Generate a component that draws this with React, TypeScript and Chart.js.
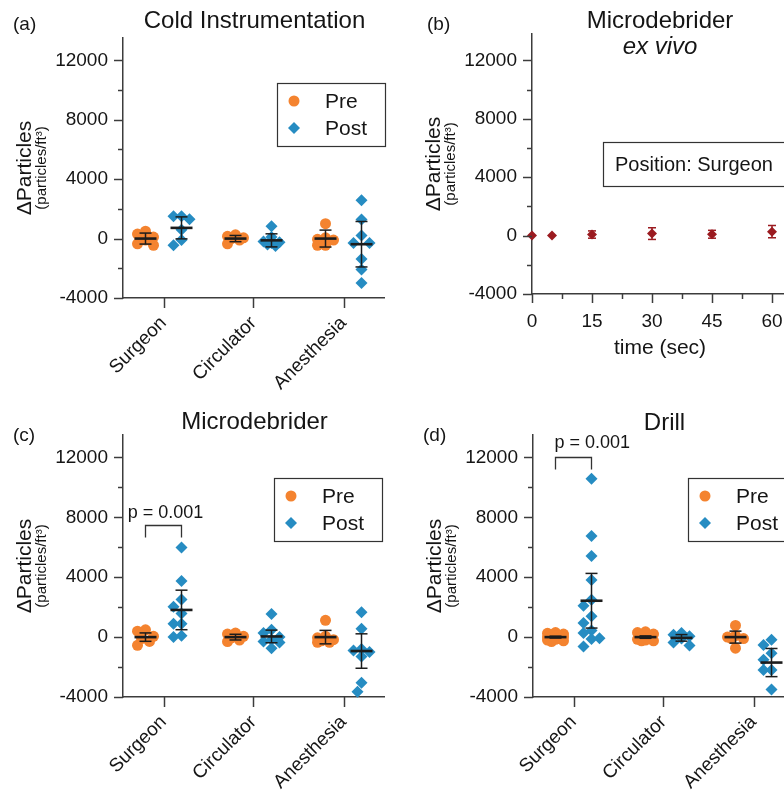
import React, { useEffect, useRef } from 'react';
import { Chart, registerables } from 'chart.js';

Chart.register(...registerables);

const FONT = '"Liberation Sans", Arial, Helvetica, sans-serif';
Chart.defaults.font.family = FONT;

const ORANGE = '#F4832F';
const BLUE = '#268CC2';
const DARKRED = '#9B1B20';
const INK = '#151515';
const AXIS = '#3c3c3c';
const BAR = '#1c1c1c';

const roles = ['Surgeon', 'Circulator', 'Anesthesia'];
const yMajorTicks = [-4000, 0, 4000, 8000, 12000];
const yMinorTicks = [-2000, 2000, 6000, 10000];

// (a) Cold Instrumentation
const coldPre = [
  [500, 300, 100, -100, -350, -450],
  [250, 150, 50, 0, -100, -350],
  [1000, 50, -50, -100, -450, -450],
];
const coldPost = [
  [1500, 1500, 1300, 600, -100, -450],
  [830, 100, -200, -250, -300, -400, -500],
  [2585, 1280, 200, -300, -300, -1370, -2090, -2990],
];
const coldPreMean = [0, 0, 0];
const coldPreErr = [370, 210, 570];
const coldPostMean = [720, -120, -380];
const coldPostErr = [740, 440, 1530];

// (b) Microdebrider ex vivo
const exVivoTime = [0, 5, 15, 30, 45, 60];
const exVivoMean = [0, 0, 70, 135, 90, 270];
const exVivoErr = [0, 0, 250, 400, 270, 420];
const timeMajorTicks = [0, 15, 30, 45, 60];
const timeMinorTicks = [7.5, 22.5, 37.5, 52.5];

// (c) Microdebrider
const microPre = [
  [490, 400, 50, -100, -290, -550],
  [270, 200, 50, -50, -200, -300],
  [1120, 50, -50, -170, -250, -350, -350],
];
const microPost = [
  [5980, 3740, 2510, 2020, 1570, 900, 900, 90, 0],
  [1545, 490, 270, 0, -180, -300, -360, -740],
  [1660, 560, -800, -900, -1000, -1300, -3050, -3650],
];
const microPreMean = [0, 0, 0];
const microPreErr = [280, 190, 450];
const microPostMean = [1815, 45, -930];
const microPostErr = [1320, 420, 1150];

// (d) Drill
const drillPre = [
  [300, 250, 200, 150, 100, 50, 0, 0, -50, -100, -150, -200, -250, -300],
  [350, 300, 200, 50, -50, -150, -200, -250, -250],
  [780, 100, 0, -100, -100, -740],
];
const drillPost = [
  [10570, 6760, 5420, 3810, 2500, 2100, 1390, 940, 450, 270, -70, -130, -630],
  [270, 150, 50, -100, -360, -560],
  [-180, -520, -1075, -1520, -2200, -2200, -3500],
];
const drillPreMean = [0, 0, 0];
const drillPreErr = [60, 80, 400];
const drillPostMean = [2430, -50, -1700];
const drillPostErr = [1825, 220, 940];

const pValueText = 'p = 0.001';

type Area = { left: number; top: number; right: number; bottom: number };

type GroupSpec = {
  letter: string;
  title: string;
  titleBaseline: number;
  letterBaseline: number;
  pre: number[][];
  post: number[][];
  preMean: number[];
  preErr: number[];
  postMean: number[];
  postErr: number[];
  yMax: number;
  width: number;
  height: number;
  area: Area;
  legendBox: { x: number; y: number };
  bracket?: { value: number; align: 'center' | 'left'; gap: number };
};

const GROUP_OFFSET = 0.2;

function swarm(values: number[], pxPerValue: number, pxPerCat: number): number[] {
  const order = values.map((_, i) => i).sort((a, b) => values[b] - values[a]);
  const placed: { x: number; y: number }[] = [];
  const offsets = new Array(values.length).fill(0);
  const cands = [0, -1, 1, -2, 2];
  const step = 4;
  const minD = 9;
  for (const i of order) {
    const y = values[i] * pxPerValue;
    let best = 0;
    let bestScore = -1;
    for (const c of cands) {
      const x = c * step;
      let d = Infinity;
      for (const p of placed) d = Math.min(d, Math.hypot(p.x - x, p.y - y));
      if (d >= minD) {
        best = x;
        bestScore = Infinity;
        break;
      }
      if (d > bestScore) {
        bestScore = d;
        best = x;
      }
    }
    placed.push({ x: best, y });
    offsets[i] = best / pxPerCat;
  }
  return offsets;
}

function line(ctx: CanvasRenderingContext2D, x1: number, y1: number, x2: number, y2: number) {
  ctx.beginPath();
  ctx.moveTo(x1, y1);
  ctx.lineTo(x2, y2);
  ctx.stroke();
}

function text(
  ctx: CanvasRenderingContext2D,
  s: string,
  x: number,
  y: number,
  size: number,
  align: CanvasTextAlign = 'left',
  baseline: CanvasTextBaseline = 'alphabetic',
  italic = false
) {
  ctx.font = `${italic ? 'italic ' : ''}${size}px ${FONT}`;
  ctx.textAlign = align;
  ctx.textBaseline = baseline;
  ctx.fillStyle = INK;
  ctx.fillText(s, x, y);
}

function drawYTitle(ctx: CanvasRenderingContext2D, a: Area) {
  const cy = (a.top + a.bottom) / 2;
  ctx.save();
  ctx.translate(a.left - 98, cy);
  ctx.rotate(-Math.PI / 2);
  text(ctx, '\u0394Particles', 0, 0, 21, 'center', 'middle');
  ctx.restore();
  ctx.save();
  ctx.translate(a.left - 81, cy);
  ctx.rotate(-Math.PI / 2);
  text(ctx, '(particles/ft\u00B3)', 0, 0, 15, 'center', 'middle');
  ctx.restore();
}

function drawYTicks(ctx: CanvasRenderingContext2D, chart: any) {
  const y = chart.scales.y;
  const a = chart.chartArea;
  ctx.strokeStyle = AXIS;
  ctx.lineWidth = 1.5;
  yMajorTicks.forEach((v) => {
    const py = Math.round(y.getPixelForValue(v)) + 0.5;
    line(ctx, a.left - 9, py, a.left, py);
  });
  yMinorTicks.forEach((v) => {
    const py = Math.round(y.getPixelForValue(v)) + 0.5;
    line(ctx, a.left - 5, py, a.left, py);
  });
}

function drawErrorBar(
  ctx: CanvasRenderingContext2D,
  px: number,
  yScale: any,
  mean: number,
  err: number,
  capHalf: number,
  meanHalf: number,
  color: string
) {
  const ym = yScale.getPixelForValue(mean);
  const yt = yScale.getPixelForValue(mean + err);
  const yb = yScale.getPixelForValue(mean - err);
  ctx.strokeStyle = color;
  ctx.lineWidth = 1.5;
  if (err > 0) {
    line(ctx, px, yt, px, yb);
    line(ctx, px - capHalf, yt, px + capHalf, yt);
    line(ctx, px - capHalf, yb, px + capHalf, yb);
  }
  if (meanHalf > 0) {
    ctx.lineWidth = 2.6;
    line(ctx, px - meanHalf, ym, px + meanHalf, ym);
  }
}

function drawLegend(ctx: CanvasRenderingContext2D, bx: number, by: number) {
  ctx.strokeStyle = '#333';
  ctx.lineWidth = 1.2;
  ctx.strokeRect(bx + 0.5, by + 0.5, 108, 63);
  ctx.fillStyle = ORANGE;
  ctx.beginPath();
  ctx.arc(bx + 17, by + 18, 5.5, 0, Math.PI * 2);
  ctx.fill();
  ctx.fillStyle = BLUE;
  const dx = bx + 17;
  const dy = by + 45;
  ctx.beginPath();
  ctx.moveTo(dx - 6, dy);
  ctx.lineTo(dx, dy - 6);
  ctx.lineTo(dx + 6, dy);
  ctx.lineTo(dx, dy + 6);
  ctx.closePath();
  ctx.fill();
  text(ctx, 'Pre', bx + 48, by + 19, 21, 'left', 'middle');
  text(ctx, 'Post', bx + 48, by + 46, 21, 'left', 'middle');
}

const yScaleOptions = (yMax: number, leftWidth: number) =>
  ({
    type: 'linear',
    min: -4000,
    max: yMax,
    afterBuildTicks: (s: any) => {
      s.ticks = yMajorTicks.map((v) => ({ value: v }));
    },
    afterFit: (s: any) => {
      s.width = leftWidth;
    },
    ticks: {
      padding: 6,
      color: INK,
      font: { size: 19, family: FONT },
      callback: (v: any) => String(v),
    },
    grid: { display: true, drawOnChartArea: false, color: 'rgba(0,0,0,0)', tickLength: 9 },
    border: { display: true, color: AXIS, width: 1.5 },
  } as any);

function buildGroupChart(canvas: HTMLCanvasElement, spec: GroupSpec) {
  const { area, width, height } = spec;
  const pxPerValue = (area.bottom - area.top) / (spec.yMax + 4000);
  const pxPerCat = (area.right - area.left) / 2.9;
  const toPoints = (groups: number[][], sign: number) =>
    groups.flatMap((vals, c) => {
      const jit = swarm(vals, pxPerValue, pxPerCat);
      return vals.map((v, i) => ({ x: c + sign * GROUP_OFFSET + jit[i], y: v }));
    });

  const overlay = {
    id: 'overlay',
    afterDatasetsDraw(chart: any) {
      const ctx = chart.ctx as CanvasRenderingContext2D;
      const xs = chart.scales.x;
      const ys = chart.scales.y;
      ctx.save();
      roles.forEach((_, c) => {
        drawErrorBar(ctx, xs.getPixelForValue(c - GROUP_OFFSET), ys, spec.preMean[c], spec.preErr[c], 6, 11, BAR);
        drawErrorBar(ctx, xs.getPixelForValue(c + GROUP_OFFSET), ys, spec.postMean[c], spec.postErr[c], 6, 11, BAR);
      });
      ctx.restore();
    },
    afterDraw(chart: any) {
      const ctx = chart.ctx as CanvasRenderingContext2D;
      const xs = chart.scales.x;
      const ys = chart.scales.y;
      const a = chart.chartArea;
      ctx.save();
      drawYTicks(ctx, chart);
      ctx.strokeStyle = AXIS;
      ctx.lineWidth = 1.5;
      roles.forEach((_, c) => {
        const px = Math.round(xs.getPixelForValue(c)) + 0.5;
        line(ctx, px, a.bottom, px, a.bottom + 10);
      });
      drawYTitle(ctx, a);
      text(ctx, spec.letter, 13, spec.letterBaseline, 19);
      text(ctx, spec.title, (a.left + a.right) / 2 + 1, spec.titleBaseline, 24, 'center');
      drawLegend(ctx, spec.legendBox.x, spec.legendBox.y);
      if (spec.bracket) {
        const x1 = xs.getPixelForValue(0 - GROUP_OFFSET);
        const x2 = xs.getPixelForValue(0 + GROUP_OFFSET);
        const yb = Math.round(ys.getPixelForValue(spec.bracket.value)) + 0.5;
        ctx.strokeStyle = '#333';
        ctx.lineWidth = 1.3;
        ctx.beginPath();
        ctx.moveTo(x1, yb + 12);
        ctx.lineTo(x1, yb);
        ctx.lineTo(x2, yb);
        ctx.lineTo(x2, yb + 12);
        ctx.stroke();
        if (spec.bracket.align === 'center') {
          text(ctx, pValueText, (x1 + x2) / 2 + 2, yb - spec.bracket.gap, 18, 'center');
        } else {
          text(ctx, pValueText, x1 - 1, yb - spec.bracket.gap, 18, 'left');
        }
      }
      ctx.restore();
    },
  };

  return new Chart(canvas, {
    type: 'scatter',
    data: {
      datasets: [
        {
          label: 'Pre',
          data: toPoints(spec.pre, -1),
          pointStyle: 'circle',
          pointRadius: 5.5,
          backgroundColor: ORANGE,
          borderWidth: 0,
          clip: false,
        } as any,
        {
          label: 'Post',
          data: toPoints(spec.post, 1),
          pointStyle: 'rectRot',
          pointRadius: 6,
          backgroundColor: BLUE,
          borderWidth: 0,
          clip: false,
        } as any,
      ],
    },
    options: {
      responsive: false,
      animation: false,
      devicePixelRatio: 1,
      layout: { padding: { top: area.top, left: 0, right: width - area.right, bottom: 0 } },
      plugins: { legend: { display: false }, tooltip: { enabled: false } },
      scales: {
        x: {
          type: 'linear',
          min: -0.45,
          max: 2.45,
          afterBuildTicks: (s: any) => {
            s.ticks = roles.map((_, i) => ({ value: i }));
          },
          afterFit: (s: any) => {
            s.height = height - area.bottom;
            s.paddingLeft = 0;
            s.paddingRight = 0;
          },
          ticks: {
            autoSkip: false,
            minRotation: 45,
            maxRotation: 45,
            padding: 4,
            color: INK,
            font: { size: 19, family: FONT },
            callback: (v: any) => roles[v] ?? '',
          },
          grid: { display: true, drawOnChartArea: false, color: 'rgba(0,0,0,0)', tickLength: 10 },
          border: { display: true, color: AXIS, width: 1.5 },
        } as any,
        y: yScaleOptions(spec.yMax, area.left),
      },
    },
    plugins: [overlay as any],
  });
}

function buildTimeChart(canvas: HTMLCanvasElement) {
  const width = 410;
  const height = 400;
  const area: Area = { left: 122, top: 34, right: 382, bottom: 294 };
  const overlay = {
    id: 'overlayTime',
    afterDatasetsDraw(chart: any) {
      const ctx = chart.ctx as CanvasRenderingContext2D;
      const xs = chart.scales.x;
      const ys = chart.scales.y;
      ctx.save();
      exVivoTime.forEach((t, i) => {
        drawErrorBar(ctx, xs.getPixelForValue(t), ys, exVivoMean[i], exVivoErr[i], 4, 0, DARKRED);
      });
      ctx.restore();
    },
    afterDraw(chart: any) {
      const ctx = chart.ctx as CanvasRenderingContext2D;
      const xs = chart.scales.x;
      const a = chart.chartArea;
      ctx.save();
      drawYTicks(ctx, chart);
      ctx.strokeStyle = AXIS;
      ctx.lineWidth = 1.5;
      timeMajorTicks.forEach((t) => {
        const px = Math.round(xs.getPixelForValue(t)) + 0.5;
        line(ctx, px, a.bottom, px, a.bottom + 9);
      });
      timeMinorTicks.forEach((t) => {
        const px = Math.round(xs.getPixelForValue(t)) + 0.5;
        line(ctx, px, a.bottom, px, a.bottom + 5);
      });
      drawYTitle(ctx, a);
      text(ctx, '(b)', 17, 30, 19);
      const cx = (a.left + a.right) / 2 - 2;
      text(ctx, 'Microdebrider', cx, 28, 24, 'center');
      text(ctx, 'ex vivo', cx, 54, 24, 'center', 'alphabetic', true);
      text(ctx, 'time (sec)', cx, 354, 21, 'center');
      ctx.strokeStyle = '#333';
      ctx.lineWidth = 1.2;
      ctx.strokeRect(193.5, 142.5, 210, 44);
      text(ctx, 'Position: Surgeon', 205, 165, 20, 'left', 'middle');
      ctx.restore();
    },
  };
  return new Chart(canvas, {
    type: 'scatter',
    data: {
      datasets: [
        {
          label: 'Microdebrider ex vivo',
          data: exVivoTime.map((t, i) => ({ x: t, y: exVivoMean[i] })),
          pointStyle: 'rectRot',
          pointRadius: 5,
          backgroundColor: DARKRED,
          borderWidth: 0,
          clip: false,
        } as any,
      ],
    },
    options: {
      responsive: false,
      animation: false,
      devicePixelRatio: 1,
      layout: { padding: { top: area.top, left: 0, right: width - area.right, bottom: 0 } },
      plugins: { legend: { display: false }, tooltip: { enabled: false } },
      scales: {
        x: {
          type: 'linear',
          min: 0,
          max: 65,
          afterBuildTicks: (s: any) => {
            s.ticks = timeMajorTicks.map((v) => ({ value: v }));
          },
          afterFit: (s: any) => {
            s.height = height - area.bottom;
            s.paddingLeft = 0;
            s.paddingRight = 0;
          },
          ticks: {
            maxRotation: 0,
            minRotation: 0,
            padding: 7,
            color: INK,
            font: { size: 19, family: FONT },
            callback: (v: any) => String(v),
          },
          grid: { display: true, drawOnChartArea: false, color: 'rgba(0,0,0,0)', tickLength: 9 },
          border: { display: true, color: AXIS, width: 1.5 },
        } as any,
        y: yScaleOptions(13800, area.left),
      },
    },
    plugins: [overlay as any],
  });
}

const specA: GroupSpec = {
  letter: '(a)',
  title: 'Cold Instrumentation',
  titleBaseline: 28,
  letterBaseline: 30,
  pre: coldPre,
  post: coldPost,
  preMean: coldPreMean,
  preErr: coldPreErr,
  postMean: coldPostMean,
  postErr: coldPostErr,
  yMax: 13500,
  width: 410,
  height: 400,
  area: { left: 123, top: 38, right: 384, bottom: 298 },
  legendBox: { x: 277, y: 83 },
};

const specC: GroupSpec = {
  letter: '(c)',
  title: 'Microdebrider',
  titleBaseline: 29,
  letterBaseline: 41,
  pre: microPre,
  post: microPost,
  preMean: microPreMean,
  preErr: microPreErr,
  postMean: microPostMean,
  postErr: microPostErr,
  yMax: 13500,
  width: 410,
  height: 395,
  area: { left: 123, top: 35, right: 384, bottom: 297 },
  legendBox: { x: 274, y: 78 },
  bracket: { value: 7500, align: 'center', gap: 8 },
};

const specD: GroupSpec = {
  letter: '(d)',
  title: 'Drill',
  titleBaseline: 30,
  letterBaseline: 41,
  pre: drillPre,
  post: drillPost,
  preMean: drillPreMean,
  preErr: drillPreErr,
  postMean: drillPostMean,
  postErr: drillPostErr,
  yMax: 13500,
  width: 410,
  height: 395,
  area: { left: 123, top: 35, right: 384, bottom: 297 },
  legendBox: { x: 278, y: 78 },
  bracket: { value: 12000, align: 'left', gap: 10 },
};

function ChartCanvas(props: {
  left: number;
  top: number;
  width: number;
  height: number;
  build: (c: HTMLCanvasElement) => Chart;
}) {
  const ref = useRef<HTMLCanvasElement>(null);
  useEffect(() => {
    const chart = props.build(ref.current as HTMLCanvasElement);
    return () => chart.destroy();
  }, []);
  return (
    <canvas
      ref={ref}
      width={props.width}
      height={props.height}
      style={{
        position: 'absolute',
        left: props.left,
        top: props.top,
        width: props.width,
        height: props.height,
        display: 'block',
      }}
    />
  );
}

export default function App() {
  return (
    <div
      style={{
        position: 'fixed',
        left: 0,
        top: 0,
        width: 784,
        height: 795,
        overflow: 'hidden',
        background: '#ffffff',
      }}
    >
      <ChartCanvas left={0} top={0} width={410} height={400} build={(c) => buildGroupChart(c, specA)} />
      <ChartCanvas left={410} top={0} width={410} height={400} build={(c) => buildTimeChart(c)} />
      <ChartCanvas left={0} top={400} width={410} height={395} build={(c) => buildGroupChart(c, specC)} />
      <ChartCanvas left={410} top={400} width={410} height={395} build={(c) => buildGroupChart(c, specD)} />
    </div>
  );
}
